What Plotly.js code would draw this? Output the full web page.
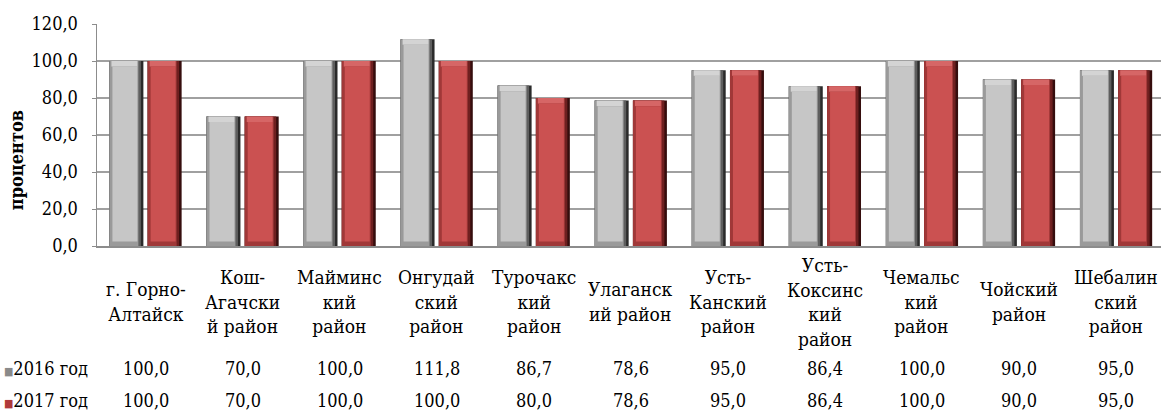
<!DOCTYPE html>
<html>
<head>
<meta charset="utf-8">
<script src="https://cdn.plot.ly/plotly-3.0.1.min.js"></script>
<style>html,body{margin:0;padding:0;background:#fff;}#chart{width:1161px;height:412px;}</style>
</head>
<body>
<div id="chart"></div>
<script>
const categories = [
  "г. Горно-<br>Алтайск",
  "Кош-<br>Агачски<br>й район",
  "Майминс<br>кий<br>район",
  "Онгудай<br>ский<br>район",
  "Турочакс<br>кий<br>район",
  "Улаганск<br>ий район",
  "Усть-<br>Канский<br>район",
  "Усть-<br>Коксинс<br>кий<br>район",
  "Чемальс<br>кий<br>район",
  "Чойский<br>район",
  "Шебалин<br>ский<br>район"
];
const seriesNames = ["2016 год", "2017 год"];
const values2016 = [100.0, 70.0, 100.0, 111.8, 86.7, 78.6, 95.0, 86.4, 100.0, 90.0, 95.0];
const values2017 = [100.0, 70.0, 100.0, 100.0, 80.0, 78.6, 95.0, 86.4, 100.0, 90.0, 95.0];
const yTickVals = [0, 20, 40, 60, 80, 100, 120];

const FONT = 'DejaVu Serif Condensed, DejaVu Serif, serif';
const xs = categories.map((c, i) => i);
const u = 1 / 97.05;
const W = 0.35;

const palettes = [
  {dark:'#2a2a2a', mid:'#5e5e5e', side:'#9a9a9a', top:'#d4d4d4', face:'#c6c6c6', key:'#8a8a8a'},
  {dark:'#360d0d', mid:'#6e2020', side:'#a03838', top:'#d66666', face:'#cb5151', key:'#b03a3a'}
];
const offsets = [-0.372, 0.022];

function layers(vals, off, p) {
  const topH = 3.0, botH = 2.4;
  const mk = (base, h, o, w, color) => ({
    type:'bar', x: xs, y: h, base: base, offset: o, width: w,
    marker:{color: color, line:{width:0}}, showlegend:false, hoverinfo:'skip'
  });
  const zeros = vals.map(() => 0);
  return [
    mk(zeros, vals, off, W, p.dark),
    mk(zeros, vals, off, W - 2.5*u, p.mid),
    mk(zeros, vals, off, W - 5*u, p.side),
    mk(vals.map(v => v - topH), vals.map(() => topH), off + 2*u, W - 8*u, p.top),
    mk(vals.map(() => botH), vals.map(v => v - topH - botH), off + 3*u, W - 9*u, p.face)
  ];
}

const data = [].concat(
  layers(values2016, offsets[0], palettes[0]),
  layers(values2017, offsets[1], palettes[1])
);

const fmt = v => v.toFixed(1).replace('.', ',');
const annotations = [];
categories.forEach((c, i) => {
  annotations.push({x:i, xref:'x', y:-0.251, yref:'paper', yanchor:'middle', xanchor:'center',
    text:c, showarrow:false, align:'center', font:{family:FONT, size:19, color:'#000'}});
});
const rowY = [-0.552, -0.697];
[values2016, values2017].forEach((vals, r) => {
  vals.forEach((v, i) => {
    annotations.push({x:i, xref:'x', y:rowY[r], yref:'paper', yanchor:'middle', xanchor:'center',
      text:fmt(v), showarrow:false, font:{family:FONT, size:18, color:'#000'}});
  });
  annotations.push({x:-0.089, xref:'paper', y:rowY[r], yref:'paper', yanchor:'middle', xanchor:'left',
    text:'<span style="color:' + palettes[r].key + ';font-size:11px">■</span>' + seriesNames[r],
    showarrow:false, font:{family:FONT, size:18, color:'#000'}});
});
annotations.push({x:-0.076, xref:'paper', xanchor:'center', y:0.387, yref:'paper', yanchor:'middle',
  text:'<b>процентов</b>', textangle:-90, showarrow:false, font:{family:FONT, size:18, color:'#000'}});

const layout = {
  width:1161, height:412,
  margin:{l:97, r:0, t:24, b:166},
  paper_bgcolor:'#fff', plot_bgcolor:'#fff',
  barmode:'overlay', separators:', ',
  showlegend:false, hovermode:false,
  xaxis:{range:[-0.5, 10.463], showticklabels:false, ticks:'', showgrid:false, zeroline:false,
    showline:true, linecolor:'#8c8c8c', linewidth:1.5, fixedrange:true},
  yaxis:{range:[0,120], tickvals:yTickVals, tickformat:'.1f', ticks:'outside', ticklen:4,
    tickcolor:'#8c8c8c', showline:true, linecolor:'#8c8c8c', linewidth:1.5,
    gridcolor:'#a0a0a0', gridwidth:1.2, zeroline:false, ticklabelstandoff:10,
    tickfont:{family:FONT, size:18, color:'#000'}, fixedrange:true},
  annotations: annotations
};
Plotly.newPlot('chart', data, layout, {displayModeBar:false, staticPlot:true});
</script>
</body>
</html>
